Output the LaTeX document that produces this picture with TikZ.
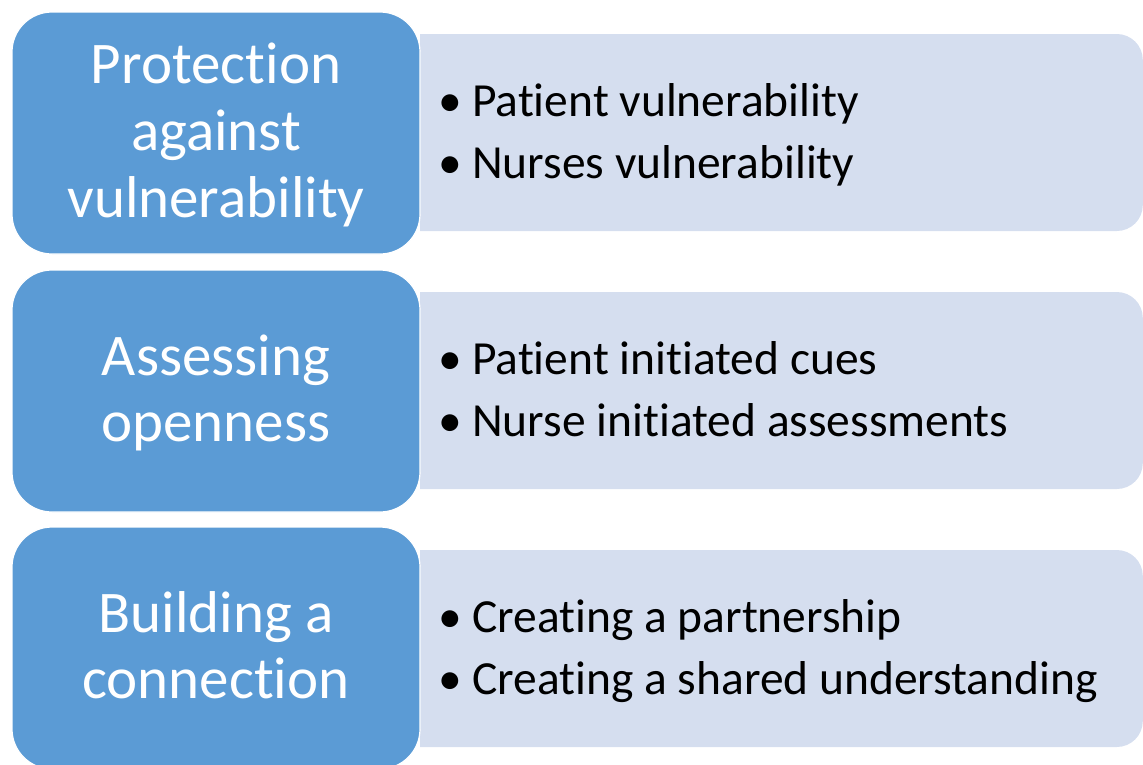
\documentclass[tikz,border=0pt]{standalone}
\usepackage{fontspec}
\setmainfont{Carlito}[Ligatures={NoCommon}]
\definecolor{themeblue}{HTML}{5B9BD5}
\definecolor{paleblue}{HTML}{D5DEEF}
\newcommand{\itembullet}{\makebox[34pt][l]{•}}
\begin{document}
\begin{tikzpicture}[x=1pt,y=-1pt,
  headbox/.style={fill=themeblue, draw=white, line width=1.2pt, rounded corners=40pt,
                  minimum width=408pt, minimum height=242pt, inner sep=0pt},
  listbox/.style={fill=paleblue, rounded corners=26pt,
                  minimum width=763pt, minimum height=197pt, inner sep=0pt, anchor=east},
  headtxt/.style={text=white, font=\fontsize{59}{66}\selectfont, anchor=base, inner sep=0pt},
  itemtxt/.style={text=black, font=\fontsize{47.5}{60}\selectfont, anchor=base west, inner sep=0pt}]
\useasboundingbox (0,0) rectangle (1143,764);
\clip (0,0) rectangle (1143,764);

% pale panels holding the bullet lists (left side tucked behind the headers)
\begin{scope}
  \clip (420,0) rectangle (1143,764);
  \node[listbox] (l1) at (1143,132.5) {};
  \node[listbox] (l2) at (1143,390.5) {};
  \node[listbox] (l3) at (1143,648.5) {};
\end{scope}

% blue header boxes
\node[headbox] (h1) at (216,133) {};
\node[headbox] (h2) at (216,391) {};
\node[headbox] (h3) at (216,648) {};

% header titles
\node[headtxt] (h1a) at (216,83)  {Protection};
\node[headtxt] (h1b) at (216,150) {against};
\node[headtxt] (h1c) at (216,217) {vulnerability};
\node[headtxt] (h2a) at (216,375) {Assessing};
\node[headtxt] (h2b) at (216,441) {openness};
\node[headtxt] (h3a) at (216,632) {Building a};
\node[headtxt] (h3b) at (216,698) {connection};

% bullet items
\node[itemtxt] (i1a) at (438,116) {\itembullet Patient vulnerability};
\node[itemtxt] (i1b) at (438,178) {\itembullet Nurses vulnerability};
\node[itemtxt] (i2a) at (438,374) {\itembullet Patient initiated cues};
\node[itemtxt] (i2b) at (438,436) {\itembullet Nurse initiated assessments};
\node[itemtxt] (i3a) at (438,632) {\itembullet Creating a partnership};
\node[itemtxt] (i3b) at (438,694) {\itembullet Creating a shared understanding};
\end{tikzpicture}
\end{document}
